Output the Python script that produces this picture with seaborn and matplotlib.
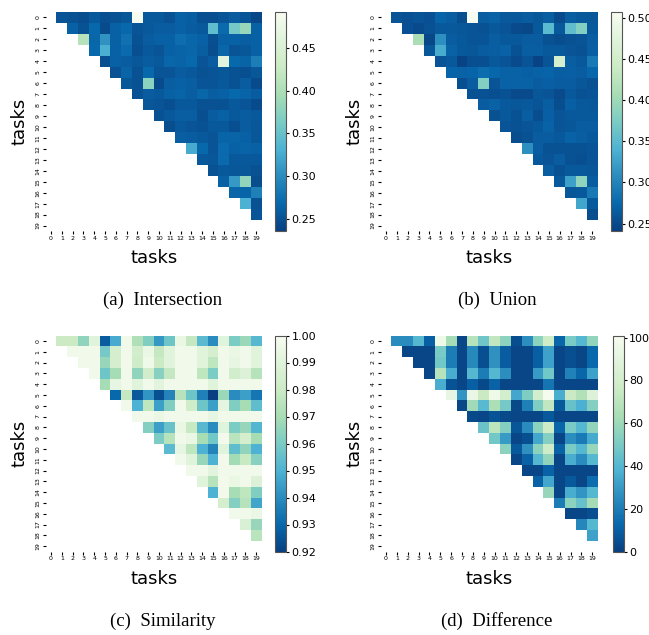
import numpy as np
import pandas as pd
import matplotlib
matplotlib.use("Agg")
import matplotlib.pyplot as plt
import seaborn as sns

tasks = list(range(20))

# upper triangle only: row i holds the values for columns i+1 .. 19
intersection = [
    [0.252, 0.250, 0.246, 0.256, 0.248, 0.250, 0.254, 0.492, 0.256, 0.256, 0.250, 0.262, 0.260, 0.248, 0.248, 0.252, 0.258, 0.252, 0.242],
    [0.262, 0.250, 0.268, 0.245, 0.262, 0.268, 0.252, 0.256, 0.258, 0.258, 0.262, 0.258, 0.256, 0.345, 0.270, 0.360, 0.385, 0.262],
    [0.410, 0.266, 0.305, 0.262, 0.275, 0.250, 0.258, 0.262, 0.262, 0.272, 0.266, 0.262, 0.248, 0.262, 0.262, 0.260, 0.262],
    [0.268, 0.328, 0.262, 0.270, 0.248, 0.256, 0.252, 0.262, 0.264, 0.266, 0.260, 0.246, 0.266, 0.252, 0.254, 0.262],
    [0.248, 0.262, 0.258, 0.254, 0.258, 0.256, 0.266, 0.264, 0.268, 0.252, 0.258, 0.462, 0.268, 0.264, 0.288],
    [0.250, 0.264, 0.250, 0.268, 0.252, 0.252, 0.258, 0.255, 0.250, 0.252, 0.254, 0.250, 0.248, 0.254],
    [0.254, 0.250, 0.375, 0.244, 0.260, 0.262, 0.260, 0.252, 0.252, 0.256, 0.250, 0.258, 0.245],
    [0.250, 0.258, 0.256, 0.262, 0.264, 0.260, 0.266, 0.260, 0.262, 0.268, 0.264, 0.258],
    [0.254, 0.252, 0.248, 0.256, 0.256, 0.250, 0.250, 0.250, 0.256, 0.252, 0.245],
    [0.250, 0.256, 0.260, 0.260, 0.248, 0.258, 0.262, 0.256, 0.258, 0.256],
    [0.246, 0.256, 0.252, 0.250, 0.256, 0.256, 0.248, 0.258, 0.254],
    [0.260, 0.258, 0.256, 0.252, 0.264, 0.264, 0.262, 0.254],
    [0.325, 0.268, 0.252, 0.270, 0.262, 0.264, 0.262],
    [0.256, 0.254, 0.270, 0.256, 0.256, 0.256],
    [0.250, 0.256, 0.254, 0.254, 0.250],
    [0.262, 0.310, 0.380, 0.246],
    [0.266, 0.265, 0.290],
    [0.330, 0.250],
    [0.252],
]

union = [
    [0.258, 0.255, 0.258, 0.255, 0.272, 0.266, 0.252, 0.505, 0.266, 0.270, 0.262, 0.262, 0.264, 0.260, 0.266, 0.250, 0.266, 0.262, 0.260],
    [0.255, 0.250, 0.256, 0.262, 0.262, 0.260, 0.258, 0.256, 0.262, 0.258, 0.250, 0.248, 0.262, 0.350, 0.262, 0.355, 0.380, 0.262],
    [0.410, 0.248, 0.310, 0.264, 0.262, 0.258, 0.258, 0.266, 0.262, 0.262, 0.264, 0.264, 0.256, 0.252, 0.256, 0.258, 0.266],
    [0.260, 0.335, 0.270, 0.262, 0.260, 0.264, 0.266, 0.270, 0.256, 0.266, 0.266, 0.262, 0.262, 0.258, 0.256, 0.268],
    [0.258, 0.262, 0.245, 0.254, 0.254, 0.262, 0.258, 0.250, 0.258, 0.245, 0.258, 0.455, 0.266, 0.262, 0.290],
    [0.272, 0.270, 0.272, 0.278, 0.274, 0.270, 0.270, 0.268, 0.270, 0.272, 0.266, 0.268, 0.264, 0.274],
    [0.254, 0.264, 0.380, 0.258, 0.270, 0.270, 0.270, 0.264, 0.268, 0.264, 0.264, 0.260, 0.256],
    [0.256, 0.256, 0.254, 0.256, 0.250, 0.250, 0.260, 0.258, 0.250, 0.262, 0.256, 0.258],
    [0.264, 0.270, 0.262, 0.260, 0.262, 0.258, 0.266, 0.252, 0.268, 0.262, 0.260],
    [0.256, 0.262, 0.256, 0.266, 0.252, 0.268, 0.258, 0.262, 0.262, 0.262],
    [0.258, 0.256, 0.258, 0.262, 0.270, 0.258, 0.260, 0.264, 0.264],
    [0.252, 0.256, 0.264, 0.264, 0.262, 0.270, 0.266, 0.262],
    [0.310, 0.264, 0.256, 0.256, 0.256, 0.256, 0.258],
    [0.262, 0.258, 0.264, 0.256, 0.254, 0.258],
    [0.266, 0.256, 0.262, 0.262, 0.260],
    [0.262, 0.325, 0.390, 0.264],
    [0.260, 0.262, 0.290],
    [0.330, 0.262],
    [0.252],
]

similarity = [
    [0.980, 0.980, 0.965, 0.990, 0.927, 0.948, 0.997, 0.972, 0.961, 0.943, 0.957, 0.994, 0.978, 0.953, 0.940, 0.990, 0.960, 0.967, 0.952],
    [0.997, 0.997, 0.997, 0.959, 0.984, 0.997, 0.983, 0.995, 0.978, 0.990, 0.997, 0.997, 0.990, 0.984, 0.997, 0.995, 0.997, 0.990],
    [0.997, 0.997, 0.966, 0.984, 0.997, 0.981, 0.996, 0.980, 0.990, 0.997, 0.997, 0.990, 0.976, 0.997, 0.993, 0.997, 0.990],
    [0.997, 0.957, 0.970, 0.997, 0.965, 0.983, 0.963, 0.978, 0.997, 0.997, 0.976, 0.960, 0.997, 0.983, 0.988, 0.974],
    [0.970, 0.993, 0.997, 0.990, 0.997, 0.991, 0.997, 0.997, 0.997, 0.997, 0.990, 0.997, 0.997, 0.997, 0.997],
    [0.930, 0.978, 0.926, 0.942, 0.924, 0.938, 0.974, 0.957, 0.937, 0.920, 0.967, 0.940, 0.945, 0.934],
    [0.997, 0.950, 0.976, 0.945, 0.961, 0.997, 0.982, 0.957, 0.945, 0.992, 0.961, 0.970, 0.954],
    [0.997, 0.997, 0.995, 0.997, 0.997, 0.997, 0.997, 0.993, 0.997, 0.997, 0.997, 0.997],
    [0.962, 0.945, 0.956, 0.994, 0.979, 0.952, 0.940, 0.990, 0.960, 0.966, 0.951],
    [0.960, 0.974, 0.997, 0.995, 0.970, 0.958, 0.998, 0.975, 0.984, 0.970],
    [0.953, 0.993, 0.976, 0.950, 0.938, 0.990, 0.954, 0.965, 0.950],
    [0.997, 0.990, 0.966, 0.950, 0.998, 0.969, 0.979, 0.963],
    [0.997, 0.997, 0.991, 0.997, 0.997, 0.997, 0.997],
    [0.990, 0.974, 0.998, 0.994, 0.997, 0.988],
    [0.950, 0.998, 0.970, 0.976, 0.961],
    [0.984, 0.962, 0.974, 0.946],
    [0.997, 0.997, 0.995],
    [0.986, 0.966],
    [0.975],
]

difference = [
    [25, 25, 40, 10, 96, 62, 2, 68, 47, 72, 55, 4, 26, 55, 77, 12, 50, 40, 57],
    [2, 2, 2, 50, 20, 2, 24, 5, 27, 9, 2, 2, 10, 32, 2, 5, 2, 13],
    [2, 2, 48, 20, 2, 24, 5, 27, 9, 2, 2, 10, 32, 2, 5, 2, 13],
    [2, 68, 36, 2, 40, 20, 40, 26, 2, 2, 30, 48, 2, 22, 12, 32],
    [36, 6, 2, 10, 3, 11, 2, 2, 2, 2, 17, 2, 2, 2, 2],
    [92, 28, 94, 75, 96, 80, 34, 51, 80, 100, 36, 75, 66, 86],
    [2, 61, 41, 65, 49, 3, 21, 51, 72, 8, 45, 37, 53],
    [3, 2, 6, 3, 2, 2, 2, 8, 2, 2, 2, 2],
    [46, 70, 53, 7, 25, 55, 77, 12, 50, 40, 57],
    [48, 30, 2, 5, 34, 53, 2, 26, 19, 35],
    [55, 8, 27, 55, 77, 11, 50, 40, 58],
    [2, 11, 40, 57, 2, 36, 25, 40],
    [2, 2, 11, 2, 2, 2, 2],
    [11, 34, 2, 8, 2, 14],
    [58, 2, 36, 28, 40],
    [20, 55, 45, 62],
    [2, 2, 5],
    [23, 40],
    [32],
]


def to_matrix(rows):
    m = np.full((len(tasks), len(tasks)), np.nan)
    for i, r in enumerate(rows):
        m[i, i + 1:i + 1 + len(r)] = r
    return pd.DataFrame(m, index=tasks, columns=tasks)


W, H = 649, 635
fig = plt.figure(figsize=(W / 100, H / 100), dpi=100)


def rect(x0, y0, x1, y1):
    # pixel box (from top-left) -> figure fraction
    return [x0 / W, 1 - y1 / H, (x1 - x0) / W, (y1 - y0) / H]


panels = [
    # data, vmin, vmax, cbar ticks, heatmap box, cbar box, caption, caption pos
    (intersection, 0.236, 0.492, [0.25, 0.30, 0.35, 0.40, 0.45],
     (45.6, 11.8, 261.7, 231.0), (275, 11.8, 286, 231.0), "(a)  Intersection", (163, 300)),
    (union, 0.241, 0.507, [0.25, 0.30, 0.35, 0.40, 0.45, 0.50],
     (380.6, 11.8, 597.7, 231.0), (611, 11.8, 622, 231.0), "(b)  Union", (497, 300)),
    (similarity, 0.92, 1.00, [0.92, 0.93, 0.94, 0.95, 0.96, 0.97, 0.98, 0.99, 1.00],
     (45.6, 335.5, 261.7, 551.5), (275, 335.5, 286, 551.5), "(c)  Similarity", (163, 621)),
    (difference, 0, 101, [0, 20, 40, 60, 80, 100],
     (380.6, 335.5, 597.7, 551.5), (612.5, 335.5, 623.5, 551.5), "(d)  Difference", (497, 621)),
]

for rows, vmin, vmax, cticks, hbox, cbox, caption, cpos in panels:
    ax = fig.add_axes(rect(*hbox))
    cax = fig.add_axes(rect(*cbox))
    sns.heatmap(to_matrix(rows), ax=ax, cbar_ax=cax, cmap="GnBu_r",
                vmin=vmin, vmax=vmax, xticklabels=1, yticklabels=1,
                cbar_kws={"ticks": cticks})
    ax.set_xlabel("tasks", fontsize=13, labelpad=6)
    ax.set_ylabel("tasks", fontsize=13, labelpad=5)
    ax.tick_params(axis="both", labelsize=4.5, length=2, width=0.8, pad=1.5)
    plt.setp(ax.get_yticklabels(), rotation=90, va="center")
    plt.setp(ax.get_xticklabels(), rotation=0)
    cb = ax.collections[0].colorbar
    cb.outline.set_linewidth(0.8)
    cb.outline.set_edgecolor("#555555")
    cax.tick_params(labelsize=8, length=2.5, width=0.8, pad=1.5)
    fig.text(cpos[0] / W, 1 - cpos[1] / H, caption, ha="center", va="center",
             fontsize=13.5, family="Liberation Serif")

fig.savefig("out.png", dpi=100)
